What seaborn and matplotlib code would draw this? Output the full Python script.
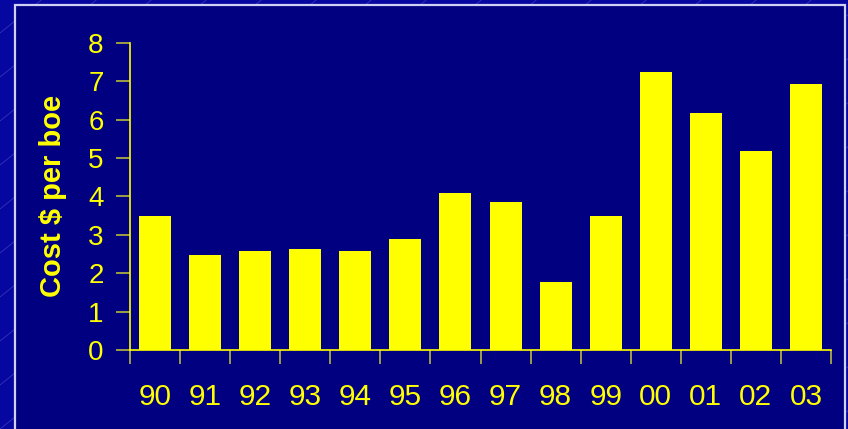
import matplotlib
matplotlib.use("Agg")
import matplotlib.pyplot as plt
from matplotlib.patches import Rectangle
from matplotlib.lines import Line2D
import numpy as np
import pandas as pd
import seaborn as sns

# Finding cost per barrel of oil equivalent, by year
years = ["90", "91", "92", "93", "94", "95", "96", "97", "98", "99", "00", "01", "02", "03"]
cost = [3.5, 2.47, 2.58, 2.63, 2.58, 2.89, 4.09, 3.85, 1.77, 3.5, 7.24, 6.17, 5.18, 6.93]
y_ticks = [0, 1, 2, 3, 4, 5, 6, 7, 8]

df = pd.DataFrame({"year": years, "cost": cost})

sns.set_style("white")
plt.rcParams["font.family"] = ["Liberation Sans", "DejaVu Sans"]

W, H = 848, 429
fig = plt.figure(figsize=(W / 100, H / 100), dpi=100)
fig.patch.set_facecolor("#0606a0")

# faint diagonal streaks of the slide background
for k in range(-20, 30):
    x0 = k * 55.0
    xs = np.array([x0, x0 + 600])
    ys = (xs - x0) * 0.8
    fig.add_artist(Line2D(xs / W, ys / H, transform=fig.transFigure,
                          color="#6a6ad8", lw=0.6, alpha=0.45, zorder=0))

# inner panel with light border
panel = Rectangle((15 / W, -0.05), (845 - 15) / W, 1 - 5 / H + 0.05,
                  transform=fig.transFigure, facecolor="#000080",
                  edgecolor="#d0d0f4", lw=1.6, zorder=1)
fig.add_artist(panel)

ax = fig.add_axes([130 / W, 1 - 350 / H, (831 - 130) / W, (350 - 42.7) / H])
ax.set_zorder(2)
ax.patch.set_alpha(0)

sns.barplot(data=df, x="year", y="cost", color="#ffff00", saturation=1,
            width=0.64, ax=ax, edgecolor="none")

ax.set_xlim(-0.5, len(years) - 0.5)
ax.set_ylim(0, 8)
ax.set_yticks(y_ticks)

for s in ["top", "right"]:
    ax.spines[s].set_visible(False)
for s in ["left", "bottom"]:
    ax.spines[s].set_color("#ffff00")
    ax.spines[s].set_linewidth(1.2)

ax.tick_params(axis="y", colors="#b8b840", labelcolor="#ffff00",
               length=10, width=1.2, labelsize=20, pad=9, left=True)
ax.tick_params(axis="x", which="major", length=0, labelcolor="#ffff00",
               labelsize=21.5, pad=24)
ax.set_xticks(np.arange(len(years) + 1) - 0.5, minor=True)
ax.tick_params(axis="x", which="minor", colors="#b8b840", length=10,
               width=1.2, bottom=True)

ax.set_xlabel("")
ax.set_ylabel("Cost $ per boe", color="#ffff00", fontsize=21,
              fontweight="bold", labelpad=15)

fig.savefig("out.png", dpi=100, facecolor=fig.get_facecolor())
